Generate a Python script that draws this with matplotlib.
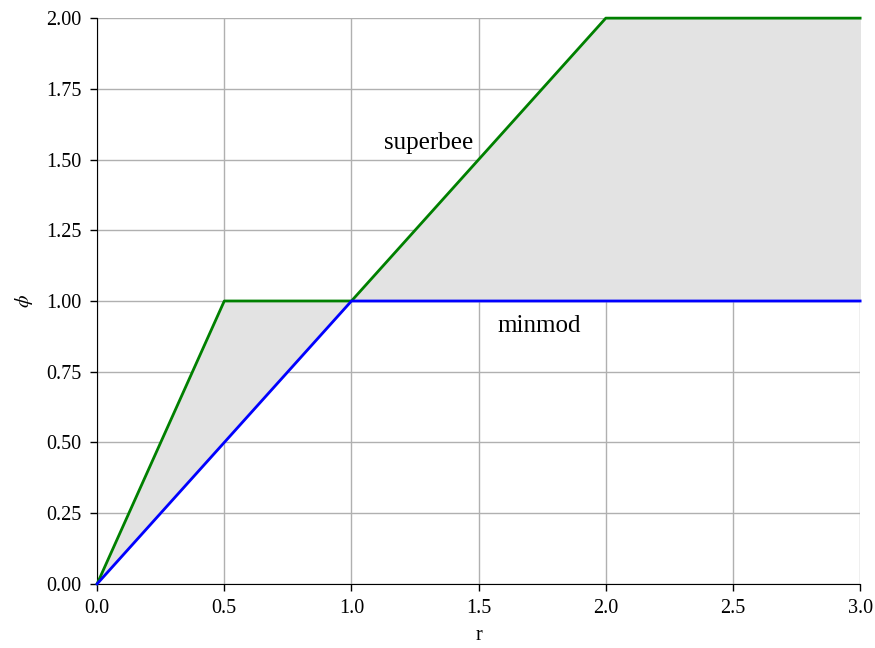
import numpy as np
import matplotlib.pyplot as plt

plt.rcParams['font.family'] = ['Liberation Serif', 'DejaVu Serif']
plt.rcParams['mathtext.fontset'] = 'stix'

# breakpoints of the two flux limiters
r = [0.0, 0.5, 1.0, 2.0, 3.0]
phi_superbee = [0.0, 1.0, 1.0, 2.0, 2.0]
phi_minmod = [0.0, 0.5, 1.0, 1.0, 1.0]

fig, ax = plt.subplots(figsize=(8.75, 6.48), dpi=100)

ax.fill_between(r, phi_minmod, phi_superbee, color='#e3e3e3', zorder=1)
ax.plot(r, phi_superbee, color='green', lw=2, zorder=3, clip_on=False)
ax.plot(r, phi_minmod, color='blue', lw=2, zorder=3, clip_on=False)

ax.text(1.305, 1.56, 'superbee', ha='center', va='center', fontsize=18)
ax.text(1.74, 0.91, 'minmod', ha='center', va='center', fontsize=18)

ax.set_xlim(0, 3)
ax.set_ylim(0, 2)
ax.set_xticks(np.arange(0, 3.01, 0.5))
ax.set_yticks(np.arange(0, 2.01, 0.25))
ax.xaxis.set_major_formatter(plt.FormatStrFormatter('%.1f'))
ax.yaxis.set_major_formatter(plt.FormatStrFormatter('%.2f'))
ax.tick_params(labelsize=14.5, length=5, width=1, pad=6)
ax.set_xlabel('r', fontsize=14.5, labelpad=6)
ax.set_ylabel(r'$\phi$', fontsize=14.5, labelpad=8)
ax.grid(True, color='#b0b0b0', lw=1, zorder=0)
ax.set_axisbelow(True)
ax.spines['top'].set_visible(False)
ax.spines['right'].set_visible(False)

fig.subplots_adjust(left=0.111, right=0.983, top=0.972, bottom=0.099)
fig.savefig('out.png')
